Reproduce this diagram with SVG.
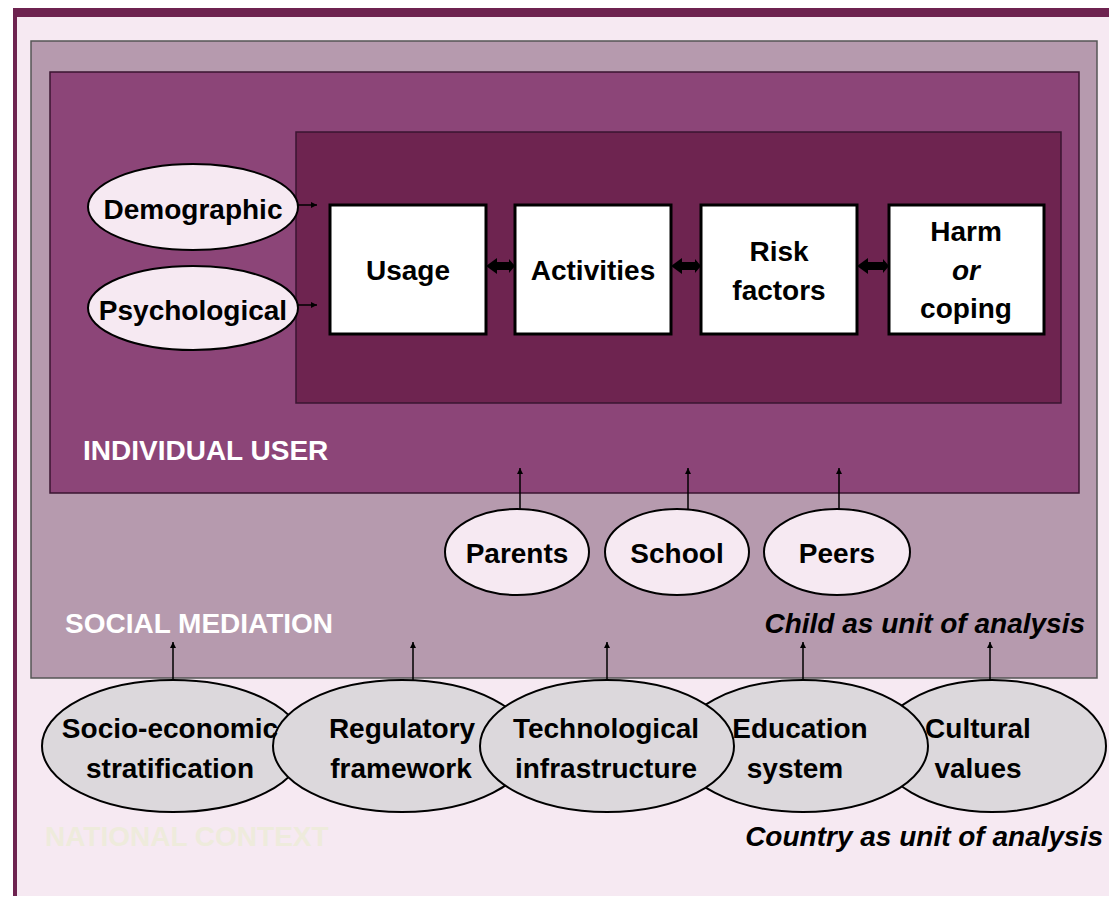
<svg xmlns="http://www.w3.org/2000/svg" width="1109" height="899" viewBox="0 0 1109 899">
<style>
text{font-family:"Liberation Sans",Arial,sans-serif;font-weight:bold;font-size:28px;fill:#000}
.c{text-anchor:middle}
.w{fill:#FFFFFF}
.it{font-style:italic}
.box{fill:#FFFFFF;stroke:#000;stroke-width:3}
.pe{fill:#F6E9F2;stroke:#000;stroke-width:2}
.ge{fill:#DCD8DC;stroke:#000;stroke-width:2}
.ln{stroke:#000;stroke-width:1.5;fill:none}
</style>
<defs>
<marker id="ah" viewBox="0 0 10 10" refX="10" refY="5" markerWidth="6" markerHeight="6" markerUnits="userSpaceOnUse" orient="auto">
<path d="M0,0 L10,5 L0,10 z" fill="#000"/>
</marker>
</defs>
<rect x="0" y="0" width="1109" height="899" fill="#FFFFFF"/>
<g id="national-context">
<rect x="13" y="8" width="1096" height="888" fill="#F6E9F2"/>
<rect x="13" y="8" width="1096" height="9" fill="#6E2350"/>
<rect x="13" y="8" width="4" height="888" fill="#6E2350"/>
<text x="45" y="846" style="fill:#EEEBDC">NATIONAL CONTEXT</text>
<text x="1103" y="846" text-anchor="end" class="it">Country as unit of analysis</text>
</g>
<g id="social-mediation">
<rect x="31" y="41" width="1066" height="637" fill="#B69AAE" stroke="#555" stroke-width="1.5"/>
<text x="65" y="633" class="w">SOCIAL MEDIATION</text>
<text x="1085" y="633" text-anchor="end" class="it">Child as unit of analysis</text>
</g>
<g id="individual-user">
<rect x="50" y="72" width="1029" height="421" fill="#8C4578" stroke="#3A1530" stroke-width="1.5"/>
<text x="83" y="460" class="w">INDIVIDUAL USER</text>
</g>
<g id="inner-process">
<rect x="296" y="132" width="765" height="271" fill="#6E2450" stroke="#3A1530" stroke-width="1.5"/>
</g>
<g id="demographic">
<ellipse cx="193" cy="207" rx="105" ry="43" class="pe"/>
<text x="193" y="219" class="c">Demographic</text>
</g>
<g id="psychological">
<ellipse cx="193" cy="308" rx="105" ry="42" class="pe"/>
<text x="193" y="320" class="c">Psychological</text>
</g>
<g id="usage">
<rect x="330" y="205" width="156" height="129" class="box"/>
<text x="408" y="280" class="c">Usage</text>
</g>
<g id="activities">
<rect x="515" y="205" width="156" height="129" class="box"/>
<text x="593" y="280" class="c">Activities</text>
</g>
<g id="risk-factors">
<rect x="701" y="205" width="156" height="129" class="box"/>
<text x="779" y="261" class="c">Risk</text>
<text x="779" y="300" class="c">factors</text>
</g>
<g id="harm-coping">
<rect x="889" y="205" width="155" height="129" class="box"/>
<text x="966" y="241" class="c">Harm</text>
<text x="966" y="280" class="c it">or</text>
<text x="966" y="318" class="c">coping</text>
</g>
<g id="parents">
<ellipse cx="517" cy="552" rx="72" ry="43" class="pe"/>
<text x="517" y="563" class="c">Parents</text>
</g>
<g id="school">
<ellipse cx="677" cy="552" rx="72" ry="43" class="pe"/>
<text x="677" y="563" class="c">School</text>
</g>
<g id="peers">
<ellipse cx="837" cy="552" rx="73" ry="43" class="pe"/>
<text x="837" y="563" class="c">Peers</text>
</g>
<g id="socio-economic">
<ellipse cx="173" cy="746" rx="131" ry="66" class="ge"/>
</g>
<g id="regulatory">
<ellipse cx="402" cy="746" rx="129" ry="66" class="ge"/>
</g>
<g id="cultural">
<ellipse cx="992" cy="746" rx="114" ry="66" class="ge"/>
</g>
<g id="education">
<ellipse cx="803" cy="746" rx="125" ry="66" class="ge"/>
</g>
<g id="technological">
<ellipse cx="607" cy="746" rx="127" ry="66" class="ge"/>
</g>
<g id="bottom-labels">
<text x="170" y="738" class="c">Socio-economic</text>
<text x="170" y="778" class="c">stratification</text>
<text x="402" y="738" class="c">Regulatory</text>
<text x="401" y="778" class="c">framework</text>
<text x="606" y="738" class="c">Technological</text>
<text x="606" y="778" class="c">infrastructure</text>
<text x="800" y="738" class="c">Education</text>
<text x="795" y="778" class="c">system</text>
<text x="978" y="738" class="c">Cultural</text>
<text x="978" y="778" class="c">values</text>
</g>
<g id="connectors">
<line x1="298" y1="205" x2="317" y2="205" class="ln" marker-end="url(#ah)"/>
<line x1="298" y1="305" x2="317" y2="305" class="ln" marker-end="url(#ah)"/>
<path d="M486,266 L497,258 L497,262 L509,262 L509,259 L515,266 L509,273 L509,270 L497,270 L497,274 Z" fill="#000"/>
<path d="M671,266 L682,258 L682,262 L695,262 L695,259 L701,266 L695,273 L695,270 L682,270 L682,274 Z" fill="#000"/>
<path d="M857,266 L868,258 L868,262 L883,262 L883,259 L889,266 L883,273 L883,270 L868,270 L868,274 Z" fill="#000"/>
<line x1="520" y1="509" x2="520" y2="468" class="ln" marker-end="url(#ah)"/>
<line x1="688" y1="509" x2="688" y2="468" class="ln" marker-end="url(#ah)"/>
<line x1="839" y1="509" x2="839" y2="468" class="ln" marker-end="url(#ah)"/>
<line x1="173" y1="680" x2="173" y2="642" class="ln" marker-end="url(#ah)"/>
<line x1="413" y1="680" x2="413" y2="642" class="ln" marker-end="url(#ah)"/>
<line x1="607" y1="680" x2="607" y2="642" class="ln" marker-end="url(#ah)"/>
<line x1="803" y1="680" x2="803" y2="642" class="ln" marker-end="url(#ah)"/>
<line x1="990" y1="680" x2="990" y2="642" class="ln" marker-end="url(#ah)"/>
</g>
</svg>
